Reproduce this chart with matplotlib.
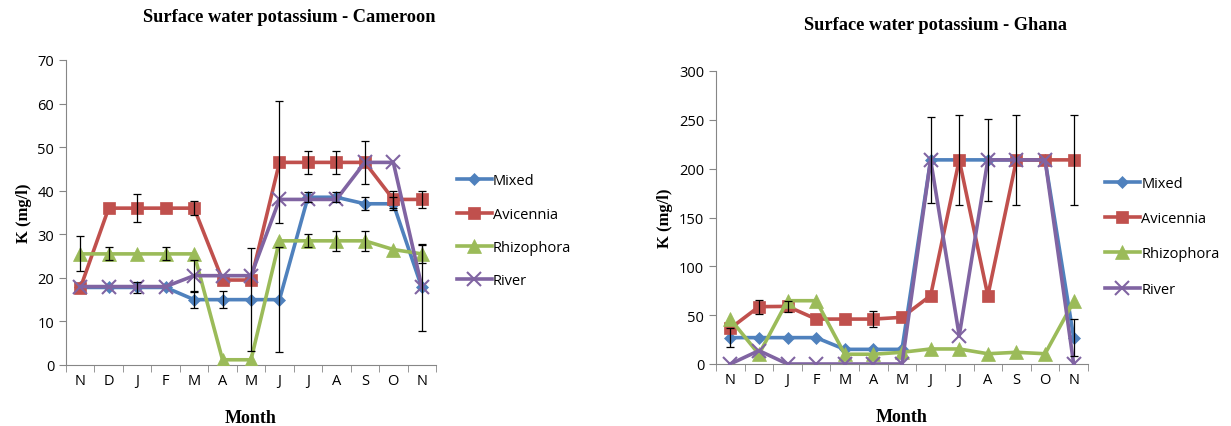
import numpy as np
import matplotlib
matplotlib.use("Agg")
import matplotlib.pyplot as plt
from matplotlib.ticker import FixedLocator, NullFormatter

months = ["N", "D", "J", "F", "M", "A", "M", "J", "J", "A", "S", "O", "N"]
series_names = ["Mixed", "Avicennia", "Rhizophora", "River"]

# Cameroon
cam_mixed = [17.8, 17.8, 17.8, 17.8, 15, 15, 15, 15, 38.5, 38.5, 37, 37, 17.8]
cam_avic = [17.6, 36, 36, 36, 36, 19.5, 19.5, 46.5, 46.5, 46.5, 46.5, 38, 38]
cam_rhiz = [25.5, 25.5, 25.5, 25.5, 25.5, 1.2, 1.2, 28.5, 28.5, 28.5, 28.5, 26.5, 25.5]
cam_river = [18, 18, 18, 18, 20.5, 20.5, 20.5, 38, 38, 38, 46.5, 46.5, 18]
cam_mixed_err = [0, 0, 1.3, 0, 1.9, 1.9, 11.8, 12, 1.2, 1.2, 1.5, 1.5, 10]
cam_avic_err = [0, 0, 3.2, 0, 1.6, 0, 0, 14, 2.6, 2.6, 5, 2, 2]
cam_rhiz_err = [4, 1.5, 0, 1.5, 0, 0, 0, 0, 1.5, 2.3, 2.3, 0, 2]
cam_river_err = [0, 0, 0, 0, 3.7, 0, 0, 0, 0, 0, 0, 0, 0]

# Ghana
gha_mixed = [27, 27, 27, 27, 15, 15, 15, 209, 209, 209, 209, 209, 27]
gha_avic = [36.5, 58.7, 59, 46, 46, 46, 47.8, 70, 209, 70, 209, 209, 209]
gha_rhiz = [46, 10, 64.8, 64.8, 10, 10, 12, 15.4, 15.4, 10.5, 12, 10.5, 64]
gha_river = [0, 13.7, 0, 0, 0, 0, 0, 209, 29, 209, 209, 209, 0]
gha_mixed_err = [10, 0, 0, 0, 0, 0, 0, 0, 0, 0, 0, 0, 19]
gha_avic_err = [0, 7, 6, 0, 0, 8, 0, 0, 46, 0, 46, 0, 46]
gha_rhiz_err = [0, 0, 0, 0, 0, 0, 0, 0, 0, 0, 0, 0, 0]
gha_river_err = [0, 0, 0, 0, 0, 0, 0, 44, 0, 42, 0, 0, 0]

colors = ["#4F81BD", "#C0504D", "#9BBB59", "#8064A2"]
markers = ["D", "s", "^", "x"]
msizes = [6.5, 9, 10, 10]

serif = "Liberation Serif"
sans = "Open Sans"


def draw(ax, values, errors, title, ymax, ystep, title_x, title_pad, leg_x, leg_y, leg_sp):
    x = np.arange(len(months))
    for name, vals, errs, c, m, ms in zip(series_names, values, errors, colors, markers, msizes):
        ax.plot(x, vals, color=c, lw=2.6, marker=m, ms=ms, mew=1.5 if m == "x" else 0.5,
                mec=c, label=name, zorder=3)
        errs = np.array(errs, dtype=float)
        idx = errs > 0
        if idx.any():
            ax.errorbar(x[idx], np.array(vals)[idx], yerr=errs[idx], fmt="none",
                        ecolor="black", elinewidth=0.9, capsize=3, capthick=0.9, zorder=4)
    ax.set_xlim(-0.5, len(months) - 0.5)
    ax.set_ylim(0, ymax)
    ax.set_yticks(np.arange(0, ymax + 1, ystep))
    ax.set_xticks(x)
    ax.set_xticklabels(months)
    ax.xaxis.set_minor_locator(FixedLocator(np.arange(-0.5, len(months), 1)))
    ax.xaxis.set_minor_formatter(NullFormatter())
    ax.tick_params(axis="x", which="major", length=0, pad=6)
    ax.tick_params(axis="x", which="minor", length=5, color="#868686", direction="out")
    ax.tick_params(axis="y", length=5, color="#868686", direction="out")
    for lab in ax.get_xticklabels() + ax.get_yticklabels():
        lab.set_fontfamily(sans)
        lab.set_fontsize(10.5)
    for s in ["top", "right"]:
        ax.spines[s].set_visible(False)
    for s in ["left", "bottom"]:
        ax.spines[s].set_color("#868686")
    ax.set_title(title, fontfamily=serif, fontweight="bold", fontsize=13.2,
                 x=title_x, pad=title_pad)
    ax.set_xlabel("Month", fontfamily=serif, fontweight="bold", fontsize=13, labelpad=15)
    ax.set_ylabel("K (mg/l)", fontfamily=serif, fontweight="bold", fontsize=12)
    ax.legend(loc="center left", bbox_to_anchor=(leg_x, leg_y), frameon=False,
              prop={"family": sans, "size": 10.5}, labelspacing=leg_sp,
              handlelength=2.4, handletextpad=0.1)


fig = plt.figure(figsize=(12.31, 4.27), dpi=100)
W, H = 1231, 427
ax1 = fig.add_axes([66 / W, 1 - 366 / H, 370 / W, 305 / H])
ax2 = fig.add_axes([716 / W, 1 - 365 / H, 372 / W, 293 / H])

draw(ax1, [cam_mixed, cam_avic, cam_rhiz, cam_river],
     [cam_mixed_err, cam_avic_err, cam_rhiz_err, cam_river_err],
     "Surface water potassium - Cameroon", 70, 10, 0.603, 28, 1.02, 0.44, 1.25)
draw(ax2, [gha_mixed, gha_avic, gha_rhiz, gha_river],
     [gha_mixed_err, gha_avic_err, gha_rhiz_err, gha_river_err],
     "Surface water potassium - Ghana", 300, 50, 0.589, 30, 1.01, 0.436, 1.4)

fig.savefig("out.png", dpi=100)
